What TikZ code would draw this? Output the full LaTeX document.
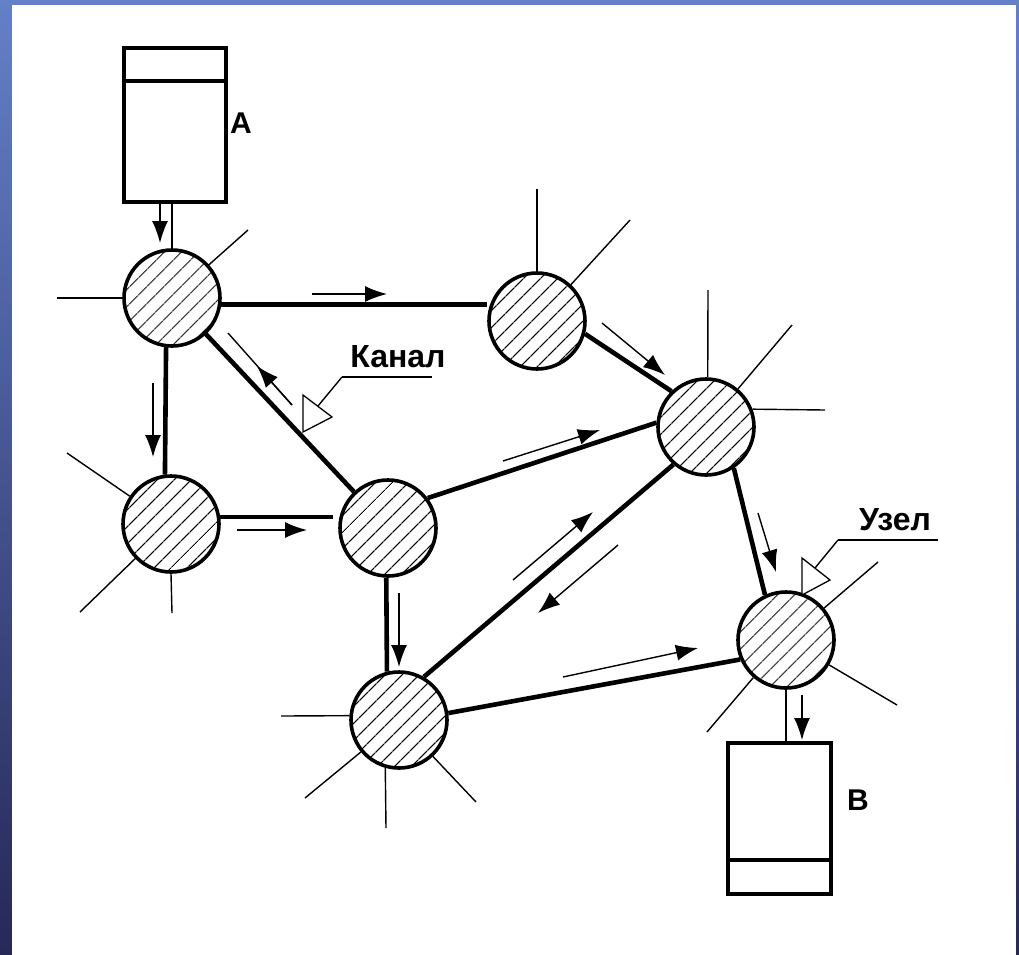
\documentclass[tikz,border=0pt]{standalone}
\usepackage{fontspec}
\setmainfont{Liberation Sans}
\usetikzlibrary{patterns.meta,arrows.meta,calc}
\definecolor{bgtop}{RGB}{100,128,198}
\definecolor{bgmid}{RGB}{45,62,155}
\definecolor{bgbot}{RGB}{38,40,88}
\tikzset{
  hub/.style={circle, draw, line width=3.6pt, minimum size=96pt, inner sep=0pt,
    pattern={Lines[angle=45,distance=13pt,line width=1.2pt]}},
  store/.style={draw, line width=3.8pt, fill=white, inner sep=0pt},
  conn/.style={line width=4.6pt},
  thinconn/.style={line width=1.6pt},
  stub/.style={line width=1.4pt},
  flow/.style={line width=1.4pt, -{Latex[length=22pt,width=16pt]}},
  callout/.style={draw, line width=1.3pt, fill=white},
  lbl/.style={font=\fontsize{32}{36}\selectfont\bfseries, inner sep=0pt},
  boxlbl/.style={font=\fontsize{30}{36}\selectfont\bfseries, inner sep=0pt}
}
\begin{document}
\begin{tikzpicture}[x=1pt,y=-1pt]
\useasboundingbox (0,0) rectangle (1019,954);
% slide background
\shade[top color=bgtop, middle color=bgmid, bottom color=bgbot] (0,0) rectangle (1019,954);
\fill[white] (12,5) rectangle (1016,965);

% stores
\node[store, minimum width=102pt, minimum height=154pt] (A) at (175,125) {};
\draw[line width=3.8pt] ($(A.north west)+(0,35)$) -- ($(A.north east)+(0,35)$);
\node[boxlbl] (Alab) at (241,123) {A};
\node[store, minimum width=103pt, minimum height=151pt] (B) at (779.5,818.5) {};
\draw[line width=3.8pt] ($(B.south west)+(0,-36)$) -- ($(B.south east)+(0,-36)$);
\node[boxlbl] (Blab) at (858,800) {B};

% hubs
\node[hub] (n1) at (172,298) {};
\node[hub] (n2) at (537,321) {};
\node[hub] (n3) at (706,427) {};
\node[hub] (n4) at (171,524) {};
\node[hub] (n5) at (388,528) {};
\node[hub] (n6) at (399,720) {};
\node[hub] (n7) at (786,640) {};

% channels
\draw[conn] (n1.-8) -- (n1.-8 -| n2.west) ;
\draw[conn] (n1.263) -- (n4.97);
\draw[conn] (n1) -- (n5);
\draw[conn] (n2.-15) -- (n3.134);
\draw[conn] (n5.37) -- (n3.175);
\draw[conn] (n3.229) -- (n6.60);
\draw[conn] (n6.8) -- (n7.203);
\draw[conn] (n5.268) -- (n6.104);
\draw[conn,shorten >=5pt] (n4.8) -- (n4.8 -| n5.west);
\draw[conn] (n3.304) -- (n7.115);
\draw[thinconn] (n1.north |- A.south) -- (n1.north);
\draw[thinconn] (n7.south) -- (n7.south |- B.north);

% stubs
\draw[stub] (n1.180) -- (57,298);
\draw[stub] (n1.42) -- (248,230);
\draw[stub] (n2.90) -- (537,189);
\draw[stub] (n2.47) -- (630,220);
\draw[stub] (n3.88) -- (708,290);
\draw[stub] (n3.50) -- (792,325);
\draw[stub] (n3.21) -- (825,410);
\draw[stub] (n4.146) -- (67,453);
\draw[stub] (n4.224) -- (80,612);
\draw[stub] (n4.270) -- (172,613);
\draw[stub] (n6.175) -- (281,716);
\draw[stub] (n6.220) -- (305,798);
\draw[stub] (n6.254) -- (386,828);
\draw[stub] (n6.313) -- (476,802);
\draw[stub] (n7.40) -- (878,562);
\draw[stub] (n7.330) -- (897,705);
\draw[stub] (n7.229) -- (707,732);

% flow arrows
\draw[flow] (312,294) -- (387,294);
\draw[flow] (160,204) -- (160,243);
\draw[flow] (153,383) -- (153,457);
\draw[stub] (292,405) -- (228,333);
\draw[flow] (292,405) -- (257,366);
\draw[flow] (602,323) -- (665,375);
\draw[flow] (237,530) -- (307,530);
\draw[flow] (503,461) -- (600,430);
\draw[flow] (513,580) -- (593,512);
\draw[flow] (618,545) -- (538,613);
\draw[flow] (399,593) -- (399,667);
\draw[flow] (563,677) -- (698,648);
\draw[flow] (758,513) -- (776,572);
\draw[flow] (802,695) -- (802,740);

% callouts
\node[lbl] (kanal) at (398,357) {Канал};
\coordinate (kl) at (342,377);
\draw[stub] (kl) -- (432,377);
\draw[callout] (303,395) -- (332,417) -- (303,432) -- cycle;
\draw[stub] (318,406) -- (kl);
\node[lbl] (uzel) at (895,520) {Узел};
\coordinate (ul) at (838,540);
\draw[stub] (ul) -- (938,540);
\draw[callout] (802,558) -- (830,580) -- (802,595) -- cycle;
\draw[stub] (815,568) -- (ul);
\end{tikzpicture}
\end{document}
